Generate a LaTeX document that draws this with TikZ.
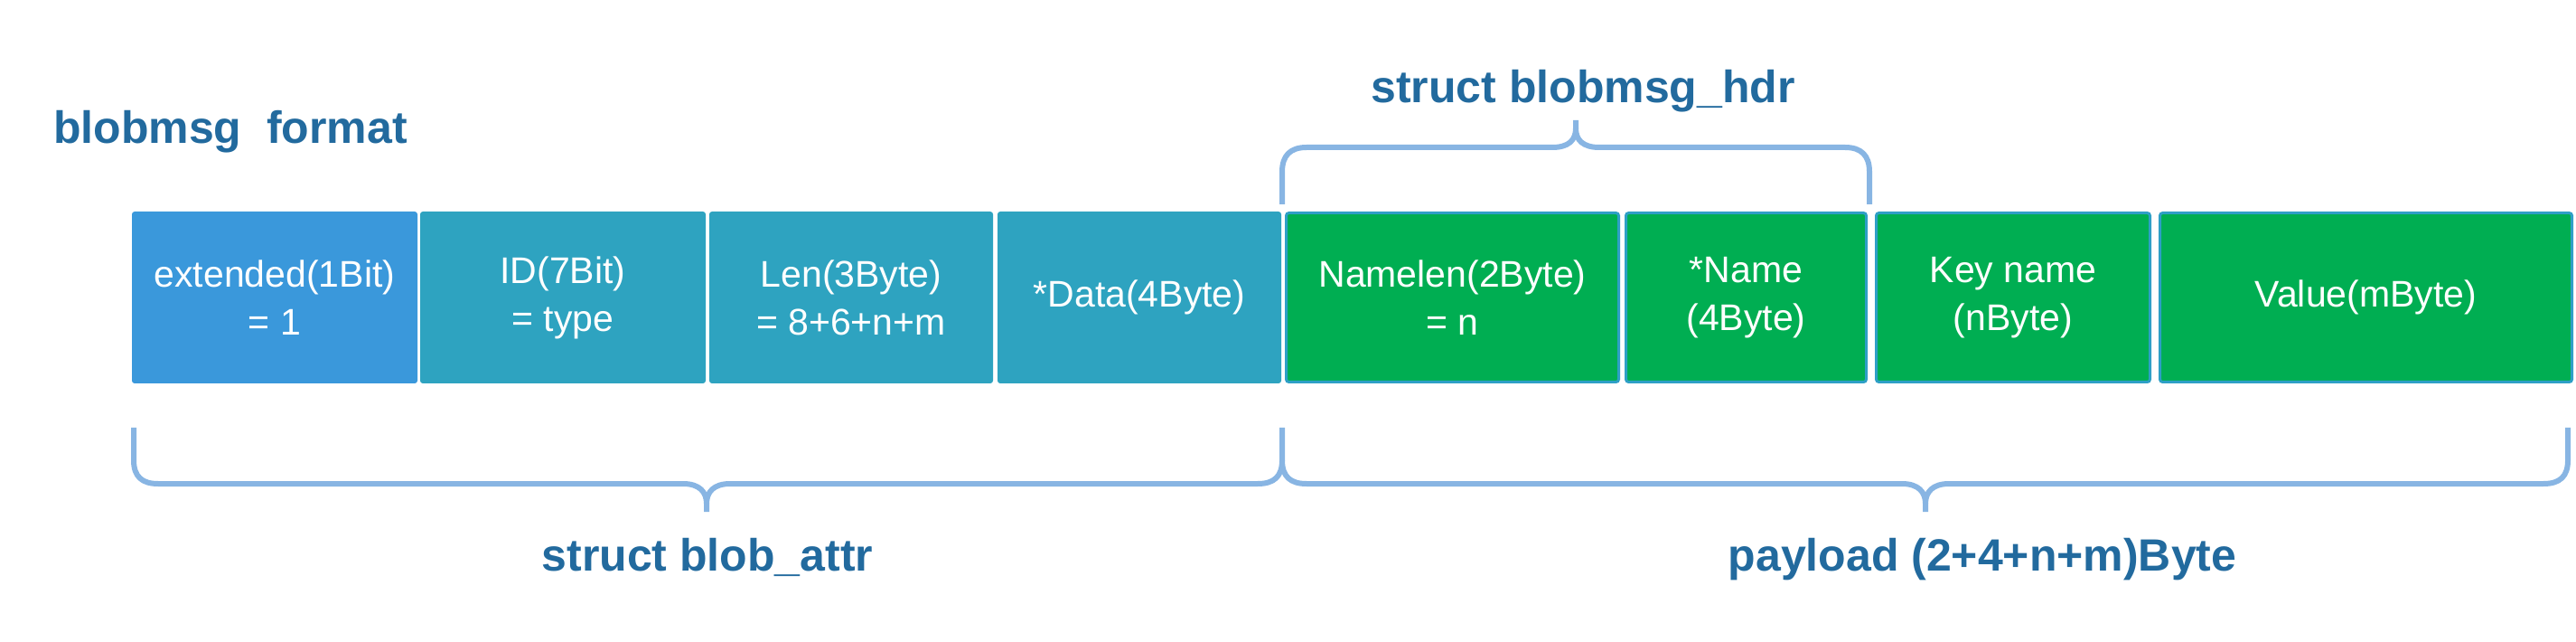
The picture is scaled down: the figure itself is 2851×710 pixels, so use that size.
\documentclass[tikz,border=0pt]{standalone}
\usepackage{fontspec}
\setmainfont{Liberation Sans}
\definecolor{blueA}{HTML}{3A98DB}
\definecolor{tealA}{HTML}{2EA3C0}
\definecolor{greenA}{HTML}{00AE52}
\definecolor{borderG}{HTML}{2E9FC6}
\definecolor{txtblue}{HTML}{226A9E}
\definecolor{braceC}{HTML}{88B5E3}
\begin{document}
\begin{tikzpicture}[x=0.5pt,y=-0.5pt,
  cell/.style={draw=none, rounded corners=1.5pt, minimum height=95pt, inner sep=0pt,
    text=white, align=center, font=\fontsize{20.5}{26.5}\selectfont},
  bluecell/.style={cell, fill=blueA},
  tealcell/.style={cell, fill=tealA},
  greencell/.style={cell, fill=greenA, draw=borderG, line width=1.5pt, minimum height=93.5pt},
  lbl/.style={anchor=base, text=txtblue, font=\bfseries\fontsize{25}{30}\selectfont},
  brace/.style={draw=braceC, line width=3pt, line join=round}]
\useasboundingbox (0,0) rectangle (2851,710);

\node[lbl, anchor=base west] (title) at (52,159) {blobmsg\ \ format};

\node[bluecell, minimum width=158pt] (b1) at (304,329) {extended(1Bit)\\= 1};
\node[tealcell, minimum width=158pt] (b2) at (623,329) {ID(7Bit)\\= type};
\node[tealcell, minimum width=157pt] (b3) at (942,329) {Len(3Byte)\\= 8+6+n+m};
\node[tealcell, minimum width=157pt] (b4) at (1261,329) {*Data(4Byte)};
\node[greencell, minimum width=184pt] (b5) at (1607.5,329) {Namelen(2Byte)\\= n};
\node[greencell, minimum width=133pt] (b6) at (1932.5,329) {*Name\\(4Byte)};
\node[greencell, minimum width=151.5pt] (b7) at (2228,329) {Key name\\(nByte)};
\node[greencell, minimum width=228pt] (b8) at (2618.5,329) {Value(mByte)};

% top brace: struct blobmsg_hdr
\draw[brace] (1419,226) -- (1419,190) .. controls (1419,172) and (1428,163) .. (1446,163)
  -- (1718,163) .. controls (1736,163) and (1744,155) .. (1744,142) -- (1744,133);
\draw[brace] (1744,142) .. controls (1744,155) and (1752,163) .. (1770,163)
  -- (2042,163) .. controls (2060,163) and (2069,172) .. (2069,190) -- (2069,226);
\node[lbl] (hdr) at (1752,114) {struct blobmsg\_hdr};

% bottom-left brace: struct blob_attr
\draw[brace] (148,473) -- (148,509) .. controls (148,527) and (157,535) .. (175,535)
  -- (756,535) .. controls (774,535) and (782,544) .. (782,557) -- (782,566);
\draw[brace] (782,557) .. controls (782,544) and (790,535) .. (808,535)
  -- (1392,535) .. controls (1410,535) and (1419,527) .. (1419,509) -- (1419,473);
\node[lbl] (attr) at (783,631) {struct blob\_attr};

% bottom-right brace: payload
\draw[brace] (1419,509) .. controls (1419,527) and (1428,535) .. (1446,535)
  -- (2105,535) .. controls (2123,535) and (2131,544) .. (2131,557) -- (2131,566);
\draw[brace] (2131,557) .. controls (2131,544) and (2139,535) .. (2157,535)
  -- (2815,535) .. controls (2833,535) and (2842,527) .. (2842,509) -- (2842,473);
\node[lbl] (pay) at (2194,631) {payload (2+4+n+m)Byte};
\end{tikzpicture}
\end{document}
